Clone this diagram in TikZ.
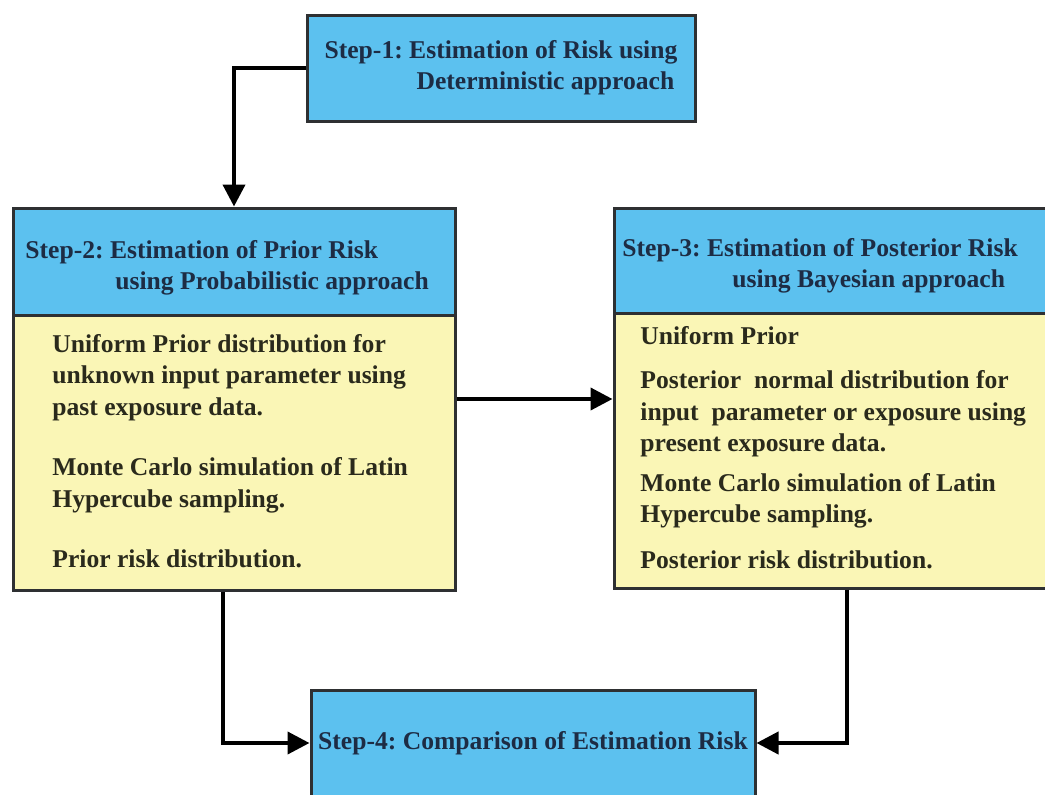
\documentclass[tikz,border=0pt]{standalone}
\usepackage{fontspec}
\setmainfont{Liberation Serif}
\usepackage{tikz}
\usetikzlibrary{arrows.meta}
\definecolor{riskblue}{HTML}{5CC1EF}
\definecolor{riskyellow}{HTML}{FAF6B6}
\definecolor{riskedge}{HTML}{2E3032}
\definecolor{risknavy}{HTML}{1D2C44}
\definecolor{riskink}{HTML}{2A2A1C}
\frenchspacing

\begin{document}
\begin{tikzpicture}[
        x=0.5pt, y=-0.5pt,
        every node/.style={font=\fontsize{12.8}{15.5}\selectfont\bfseries},
        headbox/.style={
          draw=riskedge, line width=1.5pt,
          fill=riskblue, text=risknavy,
          minimum width=#1, align=left, inner sep=0pt,
        },
        bodybox/.style={
          draw=riskedge, line width=1.5pt,
          fill=riskyellow, minimum width=#1, inner sep=0pt,
        },
        bodytext/.style={
          text=riskink, align=left, inner sep=0pt, anchor=north west,
          font=\fontsize{12.8}{15.75}\selectfont\bfseries,
        },
        titletext/.style={
          text=risknavy, align=left, inner sep=0pt, anchor=west,
        },
        flow/.style={
          -{Triangle[length=11pt,width=11pt]}, draw=black, line width=2pt,
        },
      ]
      \useasboundingbox (0,0) rectangle (1045,794);

      \node[headbox=194pt, minimum height=53pt] (s1) at (501,68)
        {Step-1: Estimation of Risk using\\\hspace*{46pt}Deterministic approach};

      \node[bodybox=221pt, minimum height=191pt] (s2) at (234,399) {};
      \node[headbox=221pt, minimum height=53.5pt, anchor=north] (s2head) at (s2.north) {};
      \node[titletext] (s2title) at (25,268)
        {Step-2: Estimation of Prior Risk\\\hspace*{45pt}using Probabilistic approach};
      \node[bodytext] (s2body) at (52,334)
        {Uniform Prior distribution for\\unknown input parameter using\\past exposure data.\\[14.5pt]
         Monte Carlo simulation of Latin\\Hypercube sampling.\\[14.5pt]
         Prior risk distribution.};

      \node[bodybox=233pt, minimum height=190pt] (s3) at (847,398) {};
      \node[headbox=233pt, minimum height=52.5pt, anchor=north] (s3head) at (s3.north) {};
      \node[titletext] (s3title) at (622,266)
        {Step-3: Estimation of Posterior Risk\\\hspace*{55pt}using Bayesian approach};
      \node[bodytext] (s3body) at (640,326)
        {Uniform Prior\\[6.5pt]
         Posterior~ normal distribution for\\input~ parameter or exposure using\\present exposure data.\\[4pt]
         Monte Carlo simulation of Latin\\Hypercube sampling.\\[7pt]
         Posterior risk distribution.};

      \node[headbox=222pt, minimum height=53pt, align=center] (s4) at (533,743)
        {Step-4: Comparison of Estimation Risk};

      \draw[flow] (s1.west) -| (s2head.north);
      \draw[flow] (s2.east) -- (s2.east -| s3.west);
      \draw[flow] ([xshift=-5.5pt]s2.south) |- (s4.west);
      \draw[flow] (s3.south) |- (s4.east);
    \end{tikzpicture}
\end{document}
